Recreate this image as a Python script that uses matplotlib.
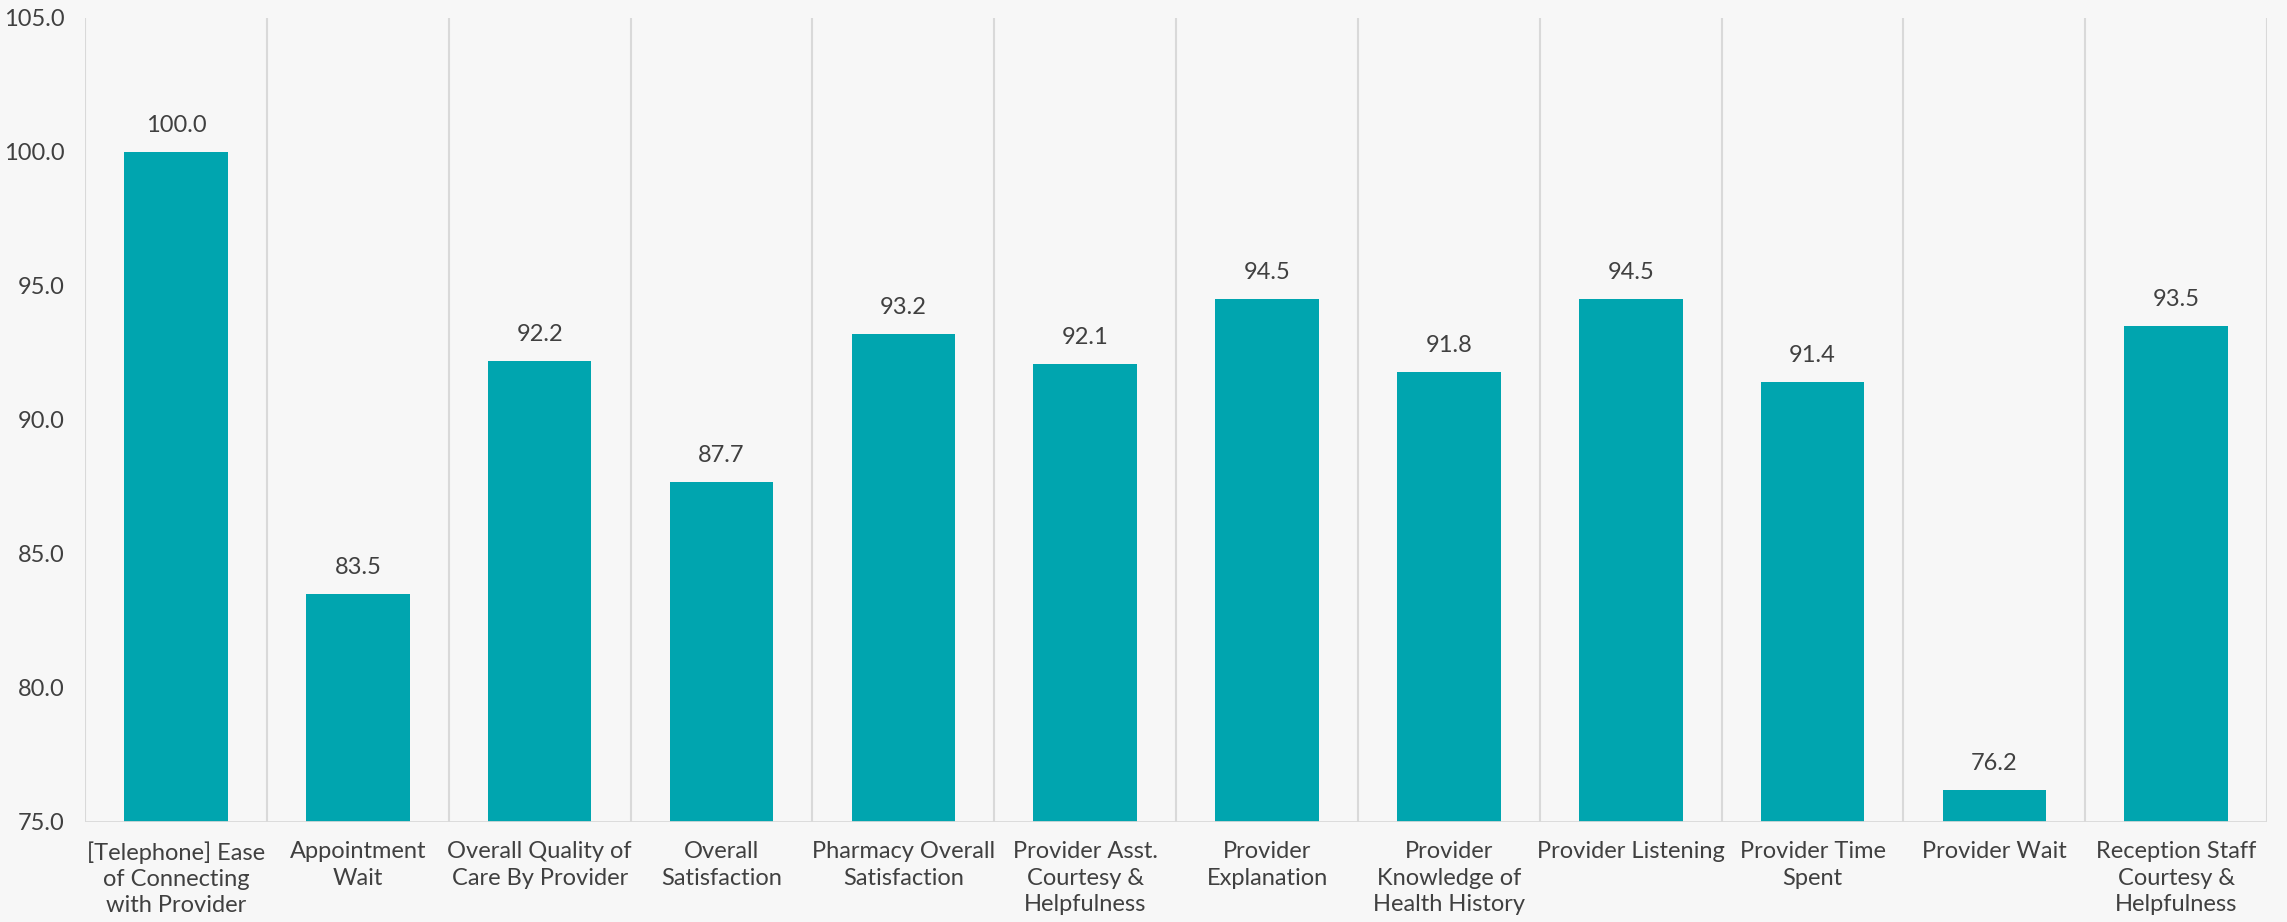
import matplotlib
matplotlib.use("Agg")
import matplotlib.pyplot as plt
import numpy as np

# ---------------------------------------------------------------------------
# Data
# ---------------------------------------------------------------------------
CATEGORIES = [
    "[Telephone] Ease\nof Connecting\nwith Provider",
    "Appointment\nWait",
    "Overall Quality of\nCare By Provider",
    "Overall\nSatisfaction",
    "Pharmacy Overall\nSatisfaction",
    "Provider Asst.\nCourtesy &\nHelpfulness",
    "Provider\nExplanation",
    "Provider\nKnowledge of\nHealth History",
    "Provider Listening",
    "Provider Time\nSpent",
    "Provider Wait",
    "Reception Staff\nCourtesy &\nHelpfulness",
]
SCORES = [100.0, 83.5, 92.2, 87.7, 93.2, 92.1, 94.5, 91.8, 94.5, 91.4, 76.2, 93.5]
Y_TICKS = [75.0, 80.0, 85.0, 90.0, 95.0, 100.0, 105.0]

BAR_COLOR = "#00A5AF"
TEXT_COLOR = "#404040"
GRID_COLOR = "#d9d9d9"
BG_COLOR = "#f7f7f7"

plt.rcParams["font.family"] = ["Lato", "DejaVu Sans"]

# ---------------------------------------------------------------------------
# Plot
# ---------------------------------------------------------------------------
fig = plt.figure(figsize=(22.87, 9.22), dpi=100, facecolor=BG_COLOR)
ax = fig.add_axes([0.0372, 0.1085, 0.9541, 0.872])
ax.set_facecolor(BG_COLOR)

x = np.arange(len(CATEGORIES))
ax.bar(x, np.array(SCORES) - Y_TICKS[0], bottom=Y_TICKS[0],
       width=0.57, color=BAR_COLOR, zorder=3)

for xi, v in zip(x, SCORES):
    ax.text(xi, v + 0.6, f"{v:.1f}", ha="center", va="bottom",
            fontsize=17, color=TEXT_COLOR)

ax.set_xlim(-0.5, len(CATEGORIES) - 0.5)
ax.set_ylim(Y_TICKS[0], Y_TICKS[-1])
ax.set_yticks(Y_TICKS)
ax.set_yticklabels([f"{t:.1f}" for t in Y_TICKS], fontsize=17, color=TEXT_COLOR)
ax.set_xticks(x)
ax.set_xticklabels(CATEGORIES, fontsize=17, color=TEXT_COLOR, linespacing=1.3)

# category separator lines
for b in np.arange(-0.5, len(CATEGORIES), 1.0):
    ax.axvline(b, color=GRID_COLOR, linewidth=1.5, zorder=1)
ax.axhline(Y_TICKS[0], color=GRID_COLOR, linewidth=2, zorder=4)

for s in ax.spines.values():
    s.set_visible(False)
ax.tick_params(axis="both", length=0)
ax.tick_params(axis="y", pad=15)
ax.tick_params(axis="x", pad=14)

plt.savefig("out.png", dpi=100, facecolor=BG_COLOR)
